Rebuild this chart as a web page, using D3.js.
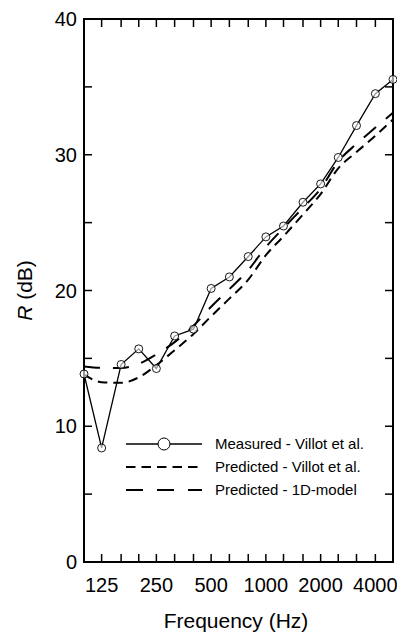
<!DOCTYPE html>
<html>
<head>
<meta charset="utf-8">
<script src="https://cdn.jsdelivr.net/npm/d3@7"></script>
<style>
  body { margin: 0; background: #fff; }
  svg { display: block; font-family: "Liberation Sans", Arial, sans-serif; }
</style>
</head>
<body>
<svg id="chart" width="397" height="635"></svg>
<script>
// third-octave band centre frequencies (Hz)
const freqs = [100, 125, 160, 200, 250, 315, 400, 500, 630, 800, 1000, 1250, 1600, 2000, 2500, 3150, 4000, 5000];
// sound reduction index R (dB)
const measured = [13.85, 8.4, 14.55, 15.7, 14.25, 16.65, 17.15, 20.15, 21.0, 22.5, 23.95, 24.75, 26.5, 27.85, 29.8, 32.15, 34.5, 35.55];
const villotPred = [13.8, 13.25, 13.2, 13.6, 14.5, 15.6, 16.8, 18.1, 19.4, 20.8, 22.6, 24.0, 25.6, 27.1, 29.0, 30.2, 31.4, 32.6];
const model1D = [14.4, 14.3, 14.3, 14.6, 15.3, 16.2, 17.4, 18.8, 20.1, 21.5, 23.2, 24.6, 26.1, 27.5, 29.5, 30.8, 32.0, 33.1];
const xLabels = [125, 250, 500, 1000, 2000, 4000];
const yLabels = [0, 10, 20, 30, 40];
const yTicks = [5, 10, 15, 20, 25, 30, 35];
const legendNames = ["Measured - Villot et al.", "Predicted - Villot et al.", "Predicted - 1D-model"];

const mLeft = 84, mRight = 393, mTop = 19, mBottom = 562;
const tickLen = 8;

const svg = d3.select("#chart");

const x = d3.scaleLog().domain([100, 5000]).range([mLeft, mRight]);
const y = d3.scaleLinear().domain([0, 40]).range([mBottom, mTop]);

// ticks, all pointing inward
const ticks = svg.append("g").attr("stroke", "#000").attr("stroke-width", 1.5);
ticks.selectAll("line.xb")
  .data(freqs.slice(1, -1))
  .join("line").attr("class", "xb")
    .attr("x1", d => x(d)).attr("x2", d => x(d))
    .attr("y1", mBottom).attr("y2", mBottom - tickLen);
ticks.selectAll("line.xt")
  .data(freqs.slice(1, -1))
  .join("line").attr("class", "xt")
    .attr("x1", d => x(d)).attr("x2", d => x(d))
    .attr("y1", mTop).attr("y2", mTop + tickLen);
ticks.selectAll("line.yl")
  .data(yTicks)
  .join("line").attr("class", "yl")
    .attr("x1", mLeft).attr("x2", mLeft + tickLen)
    .attr("y1", d => y(d)).attr("y2", d => y(d));
ticks.selectAll("line.yr")
  .data(yTicks)
  .join("line").attr("class", "yr")
    .attr("x1", mRight).attr("x2", mRight - tickLen)
    .attr("y1", d => y(d)).attr("y2", d => y(d));

// frame
svg.append("rect")
  .attr("x", mLeft).attr("y", mTop)
  .attr("width", mRight - mLeft).attr("height", mBottom - mTop)
  .attr("fill", "none").attr("stroke", "#000").attr("stroke-width", 2);

// tick labels
svg.append("g")
  .attr("font-size", 20).attr("text-anchor", "middle")
  .selectAll("text")
  .data(xLabels)
  .join("text")
    .attr("x", d => x(d)).attr("y", 592)
    .text(d => d);

svg.append("g")
  .attr("font-size", 20).attr("text-anchor", "end")
  .selectAll("text")
  .data(yLabels)
  .join("text")
    .attr("x", 77).attr("y", d => y(d)).attr("dy", "0.36em")
    .text(d => d);

// axis titles
svg.append("text")
  .attr("x", 236).attr("y", 628)
  .attr("text-anchor", "middle").attr("font-size", 21)
  .text("Frequency (Hz)");

const yt = svg.append("text")
  .attr("transform", `translate(32,${(mTop + mBottom) / 2}) rotate(-90)`)
  .attr("text-anchor", "middle").attr("font-size", 21);
yt.append("tspan").attr("font-style", "italic").text("R");
yt.append("tspan").text(" (dB)");

// curves
const curve = d3.line()
  .x((d, i) => x(freqs[i]))
  .y(d => y(d))
  .curve(d3.curveMonotoneX);
const poly = d3.line()
  .x((d, i) => x(freqs[i]))
  .y(d => y(d));

const plot = svg.append("g");

plot.append("path")
  .datum(model1D)
  .attr("d", curve)
  .attr("fill", "none").attr("stroke", "#000").attr("stroke-width", 2)
  .attr("stroke-dasharray", "16,13");

plot.append("path")
  .datum(villotPred)
  .attr("d", curve)
  .attr("fill", "none").attr("stroke", "#000").attr("stroke-width", 2)
  .attr("stroke-dasharray", "9.5,6");

plot.append("path")
  .datum(measured)
  .attr("d", poly)
  .attr("fill", "none").attr("stroke", "#000").attr("stroke-width", 1.3);

plot.selectAll("circle")
  .data(measured)
  .join("circle")
    .attr("cx", (d, i) => x(freqs[i]))
    .attr("cy", d => y(d))
    .attr("r", 4)
    .attr("fill", "#fff").attr("fill-opacity", 0.6)
    .attr("stroke", "#000").attr("stroke-width", 0.9);

// legend
const lg = svg.append("g");
const lx0 = 126, lx1 = 202, ly = [444, 467, 490];
lg.append("line").attr("x1", lx0).attr("x2", lx1).attr("y1", ly[0]).attr("y2", ly[0])
  .attr("stroke", "#000").attr("stroke-width", 1.3);
lg.append("circle").attr("cx", (lx0 + lx1) / 2).attr("cy", ly[0]).attr("r", 6)
  .attr("fill", "#fff").attr("stroke", "#000").attr("stroke-width", 1);
lg.append("line").attr("x1", lx0).attr("x2", lx1).attr("y1", ly[1]).attr("y2", ly[1])
  .attr("stroke", "#000").attr("stroke-width", 2).attr("stroke-dasharray", "9.5,6");
lg.append("line").attr("x1", lx0).attr("x2", lx1).attr("y1", ly[2]).attr("y2", ly[2])
  .attr("stroke", "#000").attr("stroke-width", 2).attr("stroke-dasharray", "17,14");
lg.selectAll("text")
  .data(legendNames)
  .join("text")
    .attr("x", 215).attr("y", (d, i) => ly[i]).attr("dy", "0.36em")
    .attr("font-size", 15)
    .text(d => d);
</script>
</body>
</html>
